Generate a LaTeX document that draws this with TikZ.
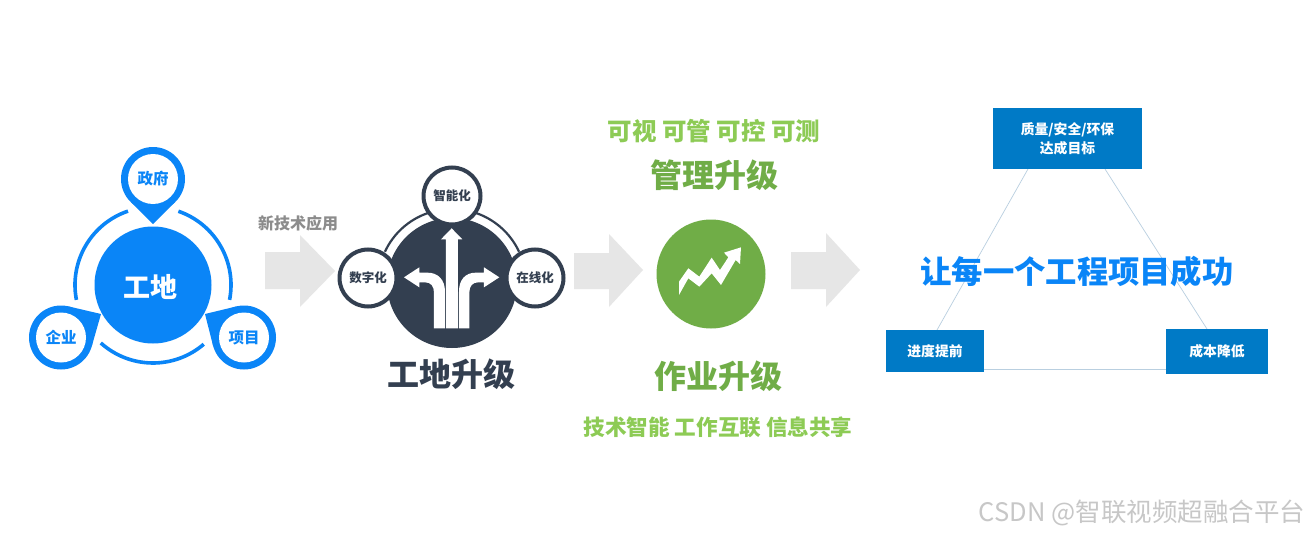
\documentclass[tikz,border=0pt]{standalone}
\usepackage{fontspec}
\setmainfont{Noto Sans CJK SC}
\usetikzlibrary{calc}
\definecolor{siteblue}{HTML}{0A85F7}
\definecolor{darkslate}{HTML}{333F50}
\definecolor{midgreen}{HTML}{70AD47}
\definecolor{lightgreen}{HTML}{8DCB55}
\definecolor{boxblue}{HTML}{007AC6}
\definecolor{arrowgrey}{HTML}{E6E6E6}
\definecolor{linegrey}{HTML}{B9CFE0}
\tikzset{
  txt/.style={inner sep=0pt,outer sep=0pt,align=center,font=\bfseries\fontsize{#1}{#1}\selectfont},
  pinouter/.style={circle,fill=siteblue,inner sep=0pt,outer sep=0pt,minimum size=64pt},
  pininner/.style={circle,fill=white,inner sep=0pt,outer sep=0pt,minimum size=50pt,text=siteblue,font=\bfseries\fontsize{15.5}{15.5}\selectfont},
  ringarc/.style={draw=siteblue,line width=3.6pt},
  techcircle/.style={circle,draw=darkslate,line width=4pt,fill=white,inner sep=0pt,outer sep=0pt,minimum size=57pt,text=darkslate,font=\bfseries\fontsize{12.5}{12.5}\selectfont},
  goalbox/.style={fill=boxblue,text=white,inner sep=0pt,outer sep=0pt,align=center,font=\bfseries\fontsize{13.8}{19}\selectfont},
  bigarrow/.style={fill=arrowgrey},
  tri/.style={draw=linegrey,line width=0.7pt}
}
\begin{document}
\begin{tikzpicture}[x=1pt,y=-1pt]
\useasboundingbox[fill=white] (0,0) rectangle (1310,535);
% left: ring
\coordinate (c1) at (153,285);
\draw[ringarc] ($(c1)+(-108.7:78)$) arc[start angle=-108.7,end angle=-191,radius=78];
\draw[ringarc] ($(c1)+(-71:78)$) arc[start angle=-71,end angle=11,radius=78];
\draw[ringarc] ($(c1)+(132:78)$) arc[start angle=132,end angle=49.4,radius=78];
\node[circle,fill=siteblue,inner sep=0pt,outer sep=0pt,minimum size=117pt] (site) at (153,285) {};
\node[txt=27,text=white] (sitelabel) at (150,287) {工地};
% pins
\node[pinouter] (zfo) at (153,179) {};
\coordinate (zft) at (153,224);
\fill[siteblue] (zft) -- (tangent cs:node=zfo,point={(zft)},solution=1) -- (tangent cs:node=zfo,point={(zft)},solution=2) -- cycle;
\node[pininner] (zf) at (153,179) {政府};
\node[pinouter] (qyo) at (61,337.5) {};
\coordinate (qyt) at (101,314);
\fill[siteblue] (qyt) -- (tangent cs:node=qyo,point={(qyt)},solution=1) -- (tangent cs:node=qyo,point={(qyt)},solution=2) -- cycle;
\node[pininner] (qy) at (61,337.5) {企业};
\node[pinouter] (xmo) at (244,337.5) {};
\coordinate (xmt) at (205,314);
\fill[siteblue] (xmt) -- (tangent cs:node=xmo,point={(xmt)},solution=1) -- (tangent cs:node=xmo,point={(xmt)},solution=2) -- cycle;
\node[pininner] (xm) at (244,337.5) {项目};
\node[font=\bfseries\fontsize{16}{16}\selectfont,inner sep=0pt,text=black!45] (newtech) at (298,223) {新技术应用};
% grey arrows
\fill[bigarrow] (265,252) -- (300,252) -- (300,235) -- (335,271) -- (300,307) -- (300,289) -- (265,289) -- cycle;
\fill[bigarrow] (574,253) -- (609,253) -- (609,234) -- (643,270) -- (609,307) -- (609,289) -- (574,289) -- cycle;
\fill[bigarrow] (791,252) -- (826,252) -- (826,233) -- (860,270) -- (826,307) -- (826,289) -- (791,289) -- cycle;
% middle
\draw[darkslate,line width=2.2pt] ($(452,283)+(-155:74)$) arc[start angle=-155,end angle=-25,radius=74];
\fill[darkslate] (452,283) circle[radius=65];
\begin{scope}[shift={(330,160)},x=0.3333pt,y=-0.3333pt]
\fill[white] (348,505) -- (348,238) -- (333,238) -- (365,205) -- (397,238) -- (384,238) -- (384,505) -- cycle;
\fill[white] (312,505) -- (312,398) .. controls (312,378) and (302,367) .. (285,367) -- (268,367) -- (268,382) -- (222,352) -- (268,322) -- (268,338) -- (292,338) .. controls (325,338) and (345,360) .. (345,395) -- (345,505) -- cycle;
\fill[white] (418,505) -- (418,398) .. controls (418,378) and (428,367) .. (445,367) -- (462,367) -- (462,382) -- (508,352) -- (462,322) -- (462,338) -- (438,338) .. controls (405,338) and (387,360) .. (387,395) -- (387,505) -- cycle;
\end{scope}
\node[techcircle] (zn) at (452,196) {智能化};
\node[techcircle] (sz) at (368,278) {数字化};
\node[techcircle] (zx) at (535,278) {在线化};
\node[txt=32,text=darkslate] (upg) at (451,374) {工地升级};
% centre
\node[txt=24.5,text=lightgreen] (t1) at (714,131) {可视 可管 可控 可测};
\node[txt=32,text=midgreen] (t2) at (714,175) {管理升级};
\node[circle,fill=midgreen,inner sep=0pt,outer sep=0pt,minimum size=109pt] (gc) at (711,274) {};
\begin{scope}[shift={(640,210)},x=0.3333pt,y=-0.3333pt]
\fill[white] (117,215) -- (145,175) -- (178,200) -- (215,143) -- (240,180) -- (265,142) -- (252,128) -- (303,112) -- (300,162) -- (287,150) -- (243,225) -- (215,190) -- (178,230) -- (145,205) -- (117,255) -- cycle;
\end{scope}
\node[txt=32,text=midgreen] (t3) at (718,376) {作业升级};
\node[txt=21.6,text=lightgreen] (t4) at (718,427) {技术智能 工作互联 信息共享};
% right
\coordinate (a1) at (1028,169);
\coordinate (a2) at (1105,169);
\coordinate (b1) at (937,330);
\coordinate (c2) at (1207,329);
\coordinate (b2) at (984,369);
\coordinate (c3) at (1166,369);
\draw[tri] (a1) -- (b1);
\draw[tri] (a2) -- (c2);
\draw[tri] (b2) -- (c3);
\node[goalbox,minimum width=149pt,minimum height=61pt] (top) at (1067.5,138.5) {质量/安全/环保\\达成目标};
\node[goalbox,minimum width=98pt,minimum height=42pt] (lft) at (935,351) {进度提前};
\node[goalbox,minimum width=102pt,minimum height=45pt] (rgt) at (1217,351.5) {成本降低};
\node[txt=31.3,text=siteblue] (goal) at (1077,272) {让每一个工程项目成功};
% watermark
\node[font=\fontsize{25.5}{25.5}\selectfont,inner sep=0pt,text=black!22] (wm) at (1142,513) {CSDN @智联视频超融合平台};
\end{tikzpicture}
\end{document}
